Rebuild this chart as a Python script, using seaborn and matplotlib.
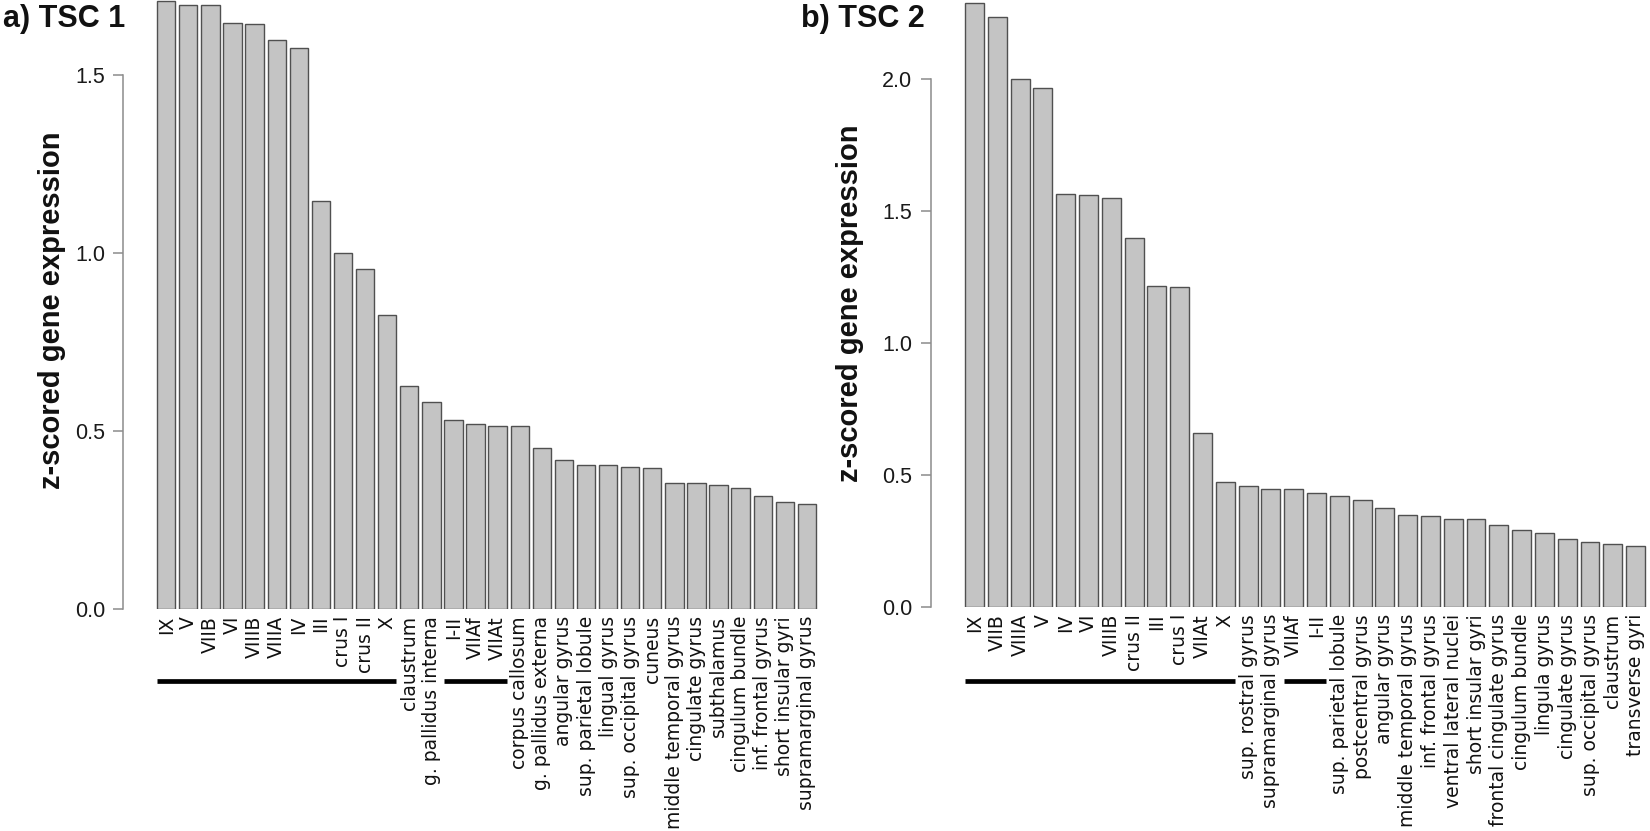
import matplotlib
matplotlib.use("Agg")
import matplotlib.pyplot as plt
import matplotlib.transforms as mtransforms
import seaborn as sns

# TSC 1 panel
tsc1_regions = [
    "IX", "V", "VIIB", "VI", "VIIIB", "VIIIA", "IV", "III", "crus I", "crus II",
    "X", "claustrum", "g. pallidus interna", "I-II", "VIIAf", "VIIAt",
    "corpus callosum", "g. pallidus externa", "angular gyrus",
    "sup. parietal lobule", "lingual gyrus", "sup. occipital gyrus", "cuneus",
    "middle temporal gyrus", "cingulate gyrus", "subthalamus",
    "cingulum bundle", "inf. frontal gyrus", "short insular gyri",
    "supramarginal gyrus",
]
tsc1_values = [
    1.707, 1.696, 1.696, 1.646, 1.644, 1.598, 1.575, 1.147, 0.999, 0.956,
    0.825, 0.626, 0.581, 0.532, 0.520, 0.515, 0.514, 0.452, 0.420, 0.405,
    0.404, 0.400, 0.396, 0.354, 0.353, 0.347, 0.339, 0.318, 0.301, 0.296,
]
tsc1_groups = [(0, 10), (13, 15)]
tsc1_yticks = [0.0, 0.5, 1.0, 1.5]

# TSC 2 panel
tsc2_regions = [
    "IX", "VIIB", "VIIIA", "V", "IV", "VI", "VIIIB", "crus II", "III", "crus I",
    "VIIAt", "X", "sup. rostral gyrus", "supramarginal gyrus", "VIIAf", "I-II",
    "sup. parietal lobule", "postcentral gyrus", "angular gyrus",
    "middle temporal gyrus", "inf. frontal gyrus", "ventral lateral nuclei",
    "short insular gyri", "frontal cingulate gyrus", "cingulum bundle",
    "lingula gyrus", "cingulate gyrus", "sup. occipital gyrus", "claustrum",
    "transverse gyri",
]
tsc2_values = [
    2.288, 2.235, 2.002, 1.966, 1.564, 1.560, 1.548, 1.400, 1.217, 1.214,
    0.661, 0.472, 0.458, 0.448, 0.448, 0.432, 0.420, 0.404, 0.377, 0.349,
    0.345, 0.334, 0.333, 0.310, 0.291, 0.280, 0.256, 0.247, 0.240, 0.230,
]
tsc2_groups = [(0, 11), (14, 15)]
tsc2_yticks = [0.0, 0.5, 1.0, 1.5, 2.0]

W, H = 1650, 831
sns.set_theme(style="white")
plt.rcParams["font.family"] = ["Liberation Sans", "DejaVu Sans"]

fig = plt.figure(figsize=(W / 100, H / 100), dpi=100)


def px_box(left, bottom, right, top):
    # pixel box (from top-left) -> figure fraction rect
    return [left / W, 1 - bottom / H, (right - left) / W, (bottom - top) / H]


ax1 = fig.add_axes(px_box(123, 609, 818, 0))
ax2 = fig.add_axes(px_box(930.5, 607, 1647, 0))

panels = [
    (ax1, tsc1_regions, tsc1_values, tsc1_groups, tsc1_yticks, "a) TSC 1",
     (-1.955, 29.5), 1.711, 3, -0.102, 0.49),
    (ax2, tsc2_regions, tsc2_values, tsc2_groups, tsc2_yticks, "b) TSC 2",
     (-1.93, 29.5), 2.30, 801, -0.112, 0.50),
]

for (ax, regions, values, groups, yticks, title, xlim, ytop, title_x,
     lab_x, lab_y) in panels:
    sns.barplot(x=regions, y=values, ax=ax, color="#c4c4c4", saturation=1,
                edgecolor="#505050", linewidth=1.0, width=0.83)
    ax.set_xlim(*xlim)
    ax.set_ylim(0, ytop)
    ax.set_facecolor("none")
    for side in ["top", "right", "bottom"]:
        ax.spines[side].set_visible(False)
    ax.spines["left"].set_color("#8c8c8c")
    ax.spines["left"].set_linewidth(1.1)
    ax.spines["left"].set_bounds(yticks[0], yticks[-1])

    ax.set_yticks(yticks)
    ax.set_yticklabels([f"{t:.1f}" for t in yticks], fontsize=15.5,
                       color="#1a1a1a")
    ax.tick_params(axis="y", length=7, width=1.1, color="#8c8c8c", pad=6,
                   left=True)
    ax.set_xticks(range(len(regions)))
    ax.set_xticklabels(regions, rotation=90, ha="center", va="top",
                       fontsize=13.5, fontfamily="DejaVu Sans", color="#111111")
    ax.tick_params(axis="x", length=0, pad=5)
    ax.set_xlabel("")
    ax.set_ylabel("")
    ax.grid(False)

    ax.text(lab_x, lab_y, "z-scored gene expression", transform=ax.transAxes,
            rotation=90, ha="center", va="center", fontsize=21,
            fontweight="bold", color="#111111")

    fig.text(title_x / W, 1 - 27 / H, title, ha="left", va="baseline",
             fontsize=22, fontweight="bold", color="#111111")

    # black bars under the cerebellar labels
    trans = mtransforms.blended_transform_factory(ax.transData, fig.transFigure)
    for start, end in groups:
        ax.plot([start - 0.415, end + 0.415], [1 - 681 / H, 1 - 681 / H],
                color="black", linewidth=3.4, solid_capstyle="butt",
                transform=trans, clip_on=False)

fig.savefig("out.png", dpi=100)
